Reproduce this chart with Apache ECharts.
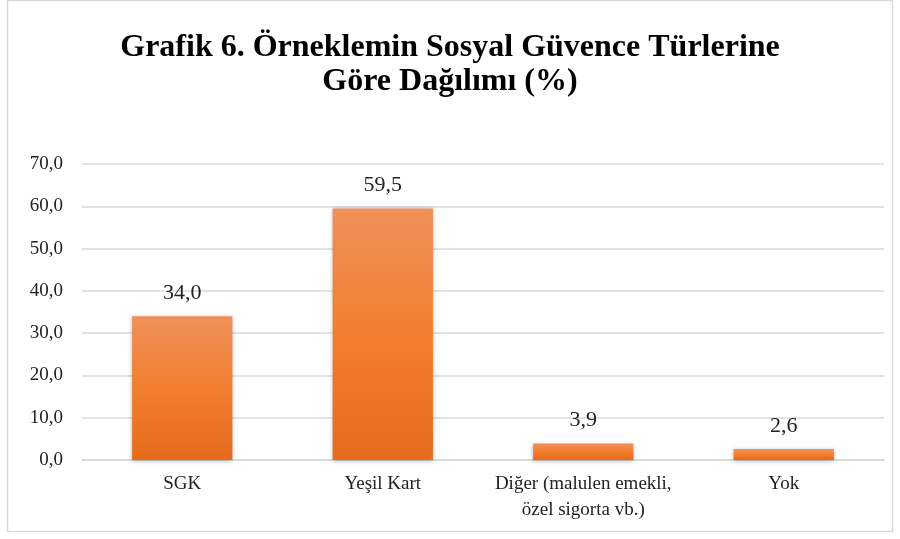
<!DOCTYPE html>
<html>
<head>
<meta charset="utf-8">
<script src="https://cdn.jsdelivr.net/npm/echarts@6/dist/echarts.min.js"></script>
<style>
  html, body { margin: 0; padding: 0; background: #fff; }
  #chart { width: 900px; height: 539px; }
</style>
</head>
<body>
<div id="chart"></div>
<script>
// veriler
const categories = ["SGK", "Yeşil Kart", "Diğer (malulen emekli,\nözel sigorta vb.)", "Yok"];
const values = [34.0, 59.5, 3.9, 2.6];

const chart = echarts.init(document.getElementById("chart"));
const fmt = v => v.toFixed(1).replace(".", ",");

chart.setOption({
  backgroundColor: "#fff",
  graphic: [{
    type: "rect",
    shape: { x: 7.5, y: 0.5, width: 885, height: 531 },
    style: { fill: "none", stroke: "#d9d9d9", lineWidth: 1.5 },
    silent: true
  }],
  title: {
    text: "Grafik 6. Örneklemin Sosyal Güvence Türlerine\nGöre Dağılımı (%)",
    left: "center",
    top: 26,
    textStyle: {
      fontFamily: "Liberation Serif",
      fontWeight: "bold",
      fontSize: 32,
      lineHeight: 34,
      color: "#000"
    }
  },
  grid: { left: 82, right: 16, top: 164, bottom: 79 },
  xAxis: {
    type: "category",
    data: categories,
    axisLine: { lineStyle: { color: "#d9d9d9", width: 1.5 } },
    axisTick: { show: false },
    axisLabel: {
      interval: 0,
      margin: 11,
      fontFamily: "Liberation Serif",
      fontSize: 19,
      lineHeight: 26,
      color: "#222"
    }
  },
  yAxis: {
    type: "value",
    min: 0,
    max: 70,
    interval: 10,
    axisLine: { show: false },
    axisTick: { show: false },
    splitLine: { lineStyle: { color: "#d9d9d9", width: 1.5 } },
    axisLabel: {
      margin: 19,
      formatter: fmt,
      fontFamily: "Liberation Serif",
      fontSize: 19,
      color: "#222"
    }
  },
  series: [{
    type: "bar",
    data: values,
    barWidth: "50%",
    itemStyle: {
      color: new echarts.graphic.LinearGradient(0, 0, 0, 1, [
        { offset: 0, color: "#F0905A" },
        { offset: 0.5, color: "#F27E2E" },
        { offset: 1, color: "#E56B1A" }
      ]),
      shadowColor: "rgba(0,0,0,0.3)",
      shadowBlur: 4,
      shadowOffsetY: 1
    },
    label: {
      show: true,
      position: "top",
      distance: 12,
      formatter: p => fmt(p.value),
      fontFamily: "Liberation Serif",
      fontSize: 22,
      color: "#222"
    }
  }]
});
</script>
</body>
</html>
